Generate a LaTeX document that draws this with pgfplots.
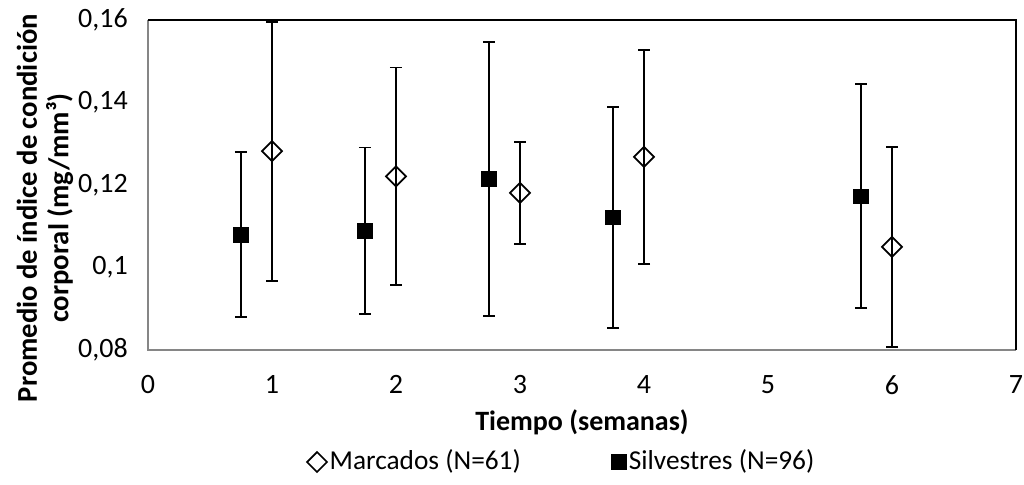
\documentclass[border=0pt]{standalone}
\usepackage{pgfplots}
\pgfplotsset{compat=1.18}
\usepackage{fontspec}
\setmainfont{Carlito}
\definecolor{axgray}{HTML}{868686}
\begin{document}
\fontsize{21}{25}\selectfont
\begin{tikzpicture}
\begin{axis}[
  at={(0,0)}, anchor=south west,
  width=651pt, height=247.5pt, scale only axis,
  xmin=0, xmax=7, ymin=0.08, ymax=0.16,
  xtick={0,1,2,3,4,5,6,7},
  ytick={0.08,0.10,0.12,0.14,0.16},
  major tick length=0pt,
  /pgf/number format/assume math mode=true,
  /pgf/number format/use comma,
  /pgf/number format/fixed,
  /pgf/number format/precision=2,
  xticklabel style={/pgf/number format/precision=0, anchor=center, yshift=-26pt, font=\fontsize{21}{25}\selectfont},
  yticklabel style={anchor=east, inner sep=0pt, xshift=-15pt, font=\fontsize{21}{25}\selectfont},
  scaled y ticks=false,
  axis line style={draw=none},
  xlabel={\bfseries Tiempo (semanas)},
  ylabel={\bfseries Promedio de índice de condición\\\bfseries corporal (mg/mm³)},
  every axis y label/.style={at={(axis description cs:-0.1187,0.43)}, rotate=90, anchor=center,
     align=center, font=\fontsize{21.5}{23.5}\selectfont},
  every axis x label/.style={at={(axis description cs:0.5,0)}, anchor=center, yshift=-54.5pt,
     font=\fontsize{21}{25}\selectfont},
  legend style={at={(axis description cs:0.477,-0.3394)}, anchor=center, draw=none, legend columns=2,
    /tikz/every even column/.append style={column sep=66pt}, font=\fontsize{20.5}{24}\selectfont},
  legend cell align=left,
  clip=false,
]
\draw[axgray, line width=1.3pt] (rel axis cs:0,1) -- (rel axis cs:0,0) -- (rel axis cs:1,0);
\draw[black, line width=1.1pt] (rel axis cs:0,1) -- (rel axis cs:1,1) -- (rel axis cs:1,0);
\addplot[only marks, mark=square, mark size=5.3pt, mark options={rotate=45, fill=white, draw=black, line width=1.3pt},
  error bars/.cd, y dir=both, y explicit, error bar style={line width=1.4pt, black},
  error mark options={line width=1.4pt, mark size=4.5pt, rotate=90}]
coordinates {
  (1,0.1282) +- (0,0.0314)
  (2,0.1221) +- (0,0.0264)
  (3,0.1181) +- (0,0.0123)
  (4,0.1268) +- (0,0.0260)
  (6,0.1050) +- (0,0.0243)
};
\addlegendentry{Marcados (N=61)}
\addplot[only marks, mark=square*, mark size=5.5pt, mark options={fill=black, draw=black},
  error bars/.cd, y dir=both, y explicit, error bar style={line width=1.4pt, black},
  error mark options={line width=1.4pt, mark size=4.5pt, rotate=90}]
coordinates {
  (0.75,0.1080) +- (0,0.0201)
  (1.75,0.1089) +- (0,0.0202)
  (2.75,0.1215) +- (0,0.0332)
  (3.75,0.1122) +- (0,0.0268)
  (5.75,0.1173) +- (0,0.0272)
};
\addlegendentry{Silvestres (N=96)}
\end{axis}
\pgfresetboundingbox
\path[use as bounding box] (-111pt,-101.25pt) rectangle (657pt,262.5pt);
\end{tikzpicture}
\end{document}
